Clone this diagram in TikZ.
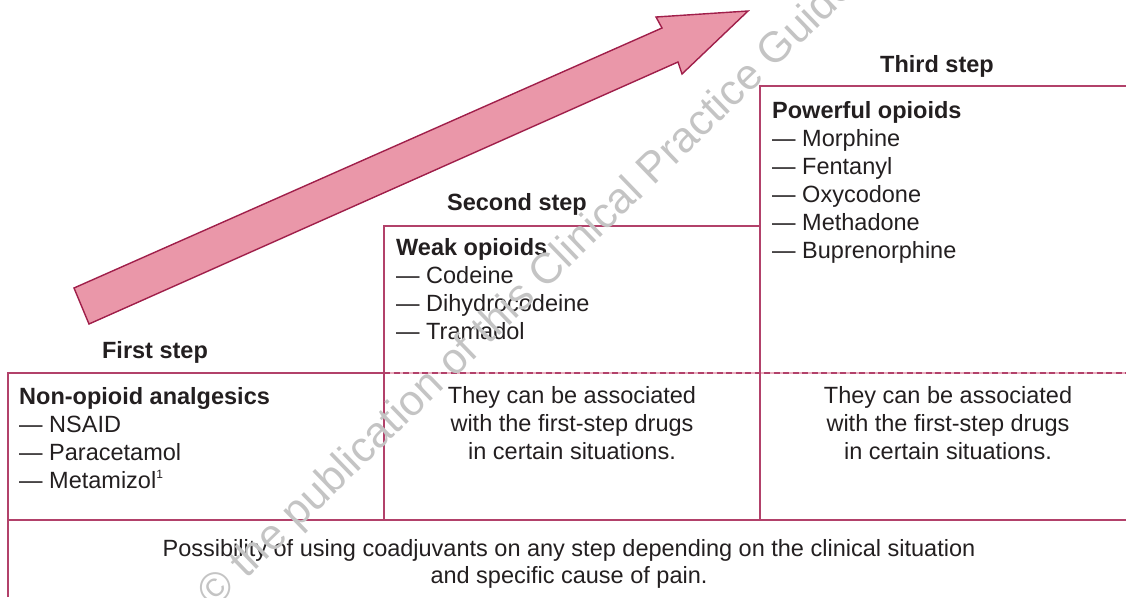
\documentclass[tikz,border=0pt]{standalone}
\usepackage{fontspec}
\setmainfont{Liberation Sans}
\definecolor{rule}{HTML}{B2416A}
\definecolor{rulelight}{HTML}{EBAFC0}
\definecolor{ink}{HTML}{231F20}
\definecolor{arrowfill}{HTML}{EA97A9}
\definecolor{arrowedge}{HTML}{A01F4A}
\definecolor{mark}{HTML}{C4C4C4}
\begin{document}
\begin{tikzpicture}[x=1pt,y=-1pt,
  frame/.style={draw=rule, line width=1.6pt},
  dashunder/.style={draw=rulelight, line width=1.6pt},
  dashover/.style={draw=rule, line width=1.6pt, dash pattern=on 6pt off 3.5pt},
  lbl/.style={inner sep=0pt, text=ink, font=\fontsize{23.5}{28}\selectfont},
  steptitle/.style={inner sep=0pt, text=ink, font=\bfseries\fontsize{23.5}{28}\selectfont},
  % multi-line nodes are placed by the baseline of their last line
  listbox/.style={lbl, align=left, anchor=base west},
  notebox/.style={lbl, align=center, anchor=base},
  ladder/.style={draw=arrowedge, fill=arrowfill, line width=1.4pt, line join=miter}
]
\useasboundingbox (0,0) rectangle (1126,597);

% corners of the three steps and the base row
\coordinate (baseL)  at (8,597);
\coordinate (s1TL)   at (8,373);
\coordinate (s1TR)   at (384,373);
\coordinate (s2BL)   at (384,520);
\coordinate (s2TL)   at (384,226);
\coordinate (s2TR)   at (760,226);
\coordinate (s3BL)   at (760,520);
\coordinate (s3TL)   at (760,86);
\coordinate (s3TR)   at (1126,86);
\coordinate (rowL)   at (8,520);
\coordinate (rowR)   at (1126,520);
\coordinate (dashR)  at (1126,373);

% rising arrow
\draw[ladder] (74,288) -- (662,28) -- (656,17) -- (748,11) -- (682,74)
  -- (678,62) -- (89,324) -- cycle;

% frame lines
\draw[dashunder] (s1TR) -- (dashR);
\draw[dashover] (s1TR) -- (dashR);
\draw[frame] (baseL) -- (s1TL) -- (s1TR);
\draw[frame] (s2BL) -- (s2TL) -- (s2TR);
\draw[frame] (s3BL) -- (s3TL) -- (s3TR);
\draw[frame] (rowL) -- (rowR);

% step titles
\node[steptitle, anchor=base] (t1) at (155,358) {First step};
\node[steptitle, anchor=base] (t2) at (517,210) {Second step};
\node[steptitle, anchor=base] (t3) at (937,72) {Third step};

% drug lists
\node[listbox] (d1) at (19,488) {\textbf{Non-opioid analgesics}\\
  — NSAID\\ — Paracetamol\\ — Metamizol\textsuperscript{\fontsize{12}{12}\selectfont 1}};
\node[listbox] (d2) at (396,339) {\textbf{Weak opioids}\\
  — Codeine\\ — Dihydrocodeine\\ — Tramadol};
\node[listbox] (d3) at (772,258) {\textbf{Powerful opioids}\\
  — Morphine\\ — Fentanyl\\ — Oxycodone\\ — Methadone\\ — Buprenorphine};

% association notes
\node[notebox] (n2) at (572,459) {They can be associated\\
  with the first-step drugs\\ in certain situations.};
\node[notebox] (n3) at (948,459) {They can be associated\\
  with the first-step drugs\\ in certain situations.};

% base row
\node[notebox, font=\fontsize{23.5}{26.5}\selectfont] (n0) at (569,583)
  {Possibility of using coadjuvants on any step
  depending on the clinical situation\\ and specific cause of pain.};

% watermark
\node[inner sep=0pt, text=mark, rotate=44, font=\fontsize{43}{43}\selectfont]
  (wm) at (528,292) {© the publication of this Clinical Practice Guide};
\end{tikzpicture}
\end{document}
